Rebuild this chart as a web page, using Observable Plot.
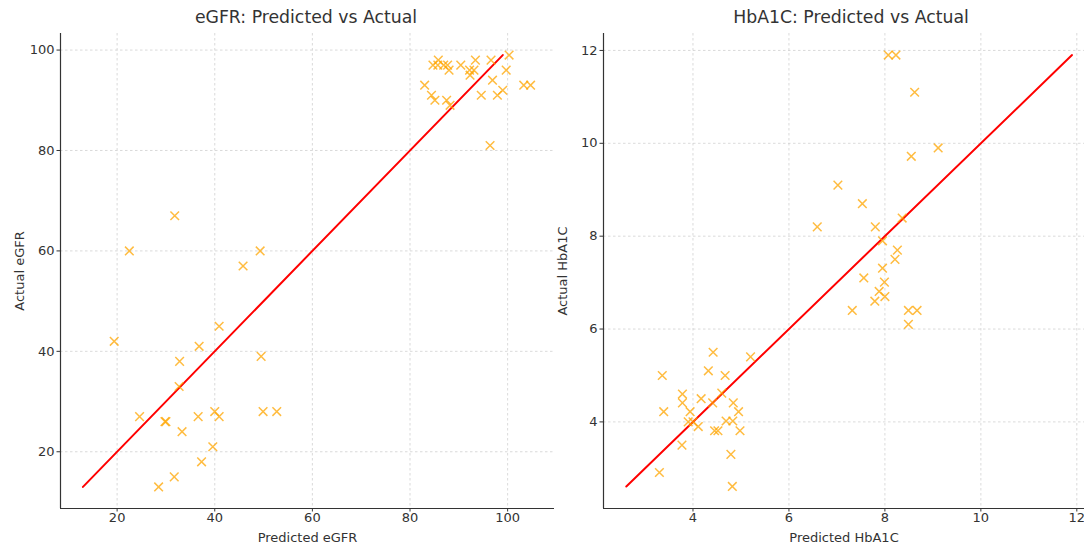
<!DOCTYPE html>
<html>
<head>
<meta charset="utf-8">
<script src="https://cdn.jsdelivr.net/npm/d3@7"></script>
<script src="https://cdn.jsdelivr.net/npm/@observablehq/plot@0.6"></script>
<style>
  html, body { margin: 0; padding: 0; background: #fff; }
  #wrap { position: relative; width: 1084px; height: 544px; overflow: hidden; font-family: "DejaVu Sans", sans-serif; }
  .title { position: absolute; top: 9px; font-size: 17.3px; color: #333; text-align: center; line-height: 1; }
  .panel { position: absolute; top: 0; }
</style>
</head>
<body>
<div id="wrap">
  <div class="panel" id="left" style="left:0px"></div>
  <div class="panel" id="right" style="left:543px"></div>
  <div class="title" style="left:0px;width:612px">eGFR: Predicted vs Actual</div>
  <div class="title" style="left:618px;width:466px">HbA1C: Predicted vs Actual</div>
</div>
<script>
// eGFR panel data
const eGFRPredicted = [31.8, 22.5, 49.3, 45.8, 19.4, 40.9, 36.8, 32.8, 49.5, 32.7, 24.6, 29.8, 30.0, 33.3, 36.6, 40.0, 40.9, 49.9, 52.7, 39.6, 37.3, 31.7, 28.5,
  84.7, 85.7, 86.9, 87.7, 88.0, 85.8, 90.4, 92.2, 93.1, 92.3, 93.4, 96.6, 99.7, 100.3, 83.0, 84.4, 85.1, 87.5, 88.2, 94.6, 96.9, 97.9, 99.0, 103.3, 104.7, 96.4];
const eGFRActual = [67, 60, 60, 57, 42, 45, 41, 38, 39, 33, 27, 26, 26, 24, 27, 28, 27, 28, 28, 21, 18, 15, 13,
  97, 97, 97, 97, 96, 98, 97, 96, 96, 95, 98, 98, 96, 99, 93, 91, 90, 90, 89, 91, 94, 91, 92, 93, 93, 81];
const eGFRTicks = [20, 40, 60, 80, 100];

// HbA1C panel data
const hba1cPredicted = [4.42, 5.2, 3.36, 4.32, 4.67, 3.78, 4.6, 4.17, 3.78, 4.41, 4.84, 3.39, 3.94, 4.95, 3.9, 4.0, 4.11, 4.69, 4.83, 4.45, 4.52, 4.98, 3.77, 4.79, 3.3, 4.82,
  7.02, 7.53, 6.59, 7.8, 8.36, 7.95, 8.26, 8.21, 7.95, 7.56, 7.99, 7.88, 8.0, 7.79, 7.32, 8.49, 8.67, 8.49,
  8.07, 8.23, 8.62, 9.11, 8.55];
const hba1cActual = [5.5, 5.4, 5.0, 5.1, 5.0, 4.6, 4.62, 4.5, 4.41, 4.41, 4.41, 4.22, 4.22, 4.22, 4.0, 4.0, 3.9, 4.02, 4.02, 3.81, 3.81, 3.81, 3.5, 3.3, 2.91, 2.61,
  9.1, 8.7, 8.2, 8.2, 8.39, 7.9, 7.7, 7.5, 7.31, 7.1, 7.01, 6.81, 6.7, 6.6, 6.4, 6.4, 6.4, 6.1,
  11.9, 11.9, 11.1, 9.9, 9.72];
const hba1cTicks = [4, 6, 8, 10, 12];

function panel({pred, actual, ticks, xDomain, yDomain, xLabel, yLabel, width, marginRight}) {
  const pts = pred.map((p, i) => ({x: p, y: actual[i]}));
  const lo = d3.min(actual), hi = d3.max(actual);
  const ideal = [{x: lo, y: lo}, {x: hi, y: hi}];
  const grid = {stroke: "#c4c4c4", strokeOpacity: 0.8, strokeDasharray: "2.5,2.5", strokeWidth: 0.8};
  return Plot.plot({
    width, height: 544,
    marginTop: 33, marginBottom: 36, marginLeft: 60, marginRight,
    style: {fontFamily: "DejaVu Sans, sans-serif", fontSize: "13px", color: "#333", background: "transparent", overflow: "visible"},
    x: {domain: xDomain},
    y: {domain: yDomain},
    marks: [
      Plot.gridX(ticks, grid),
      Plot.gridY(ticks, grid),
      Plot.ruleX([xDomain[0]], {stroke: "#333", strokeWidth: 1.2}),
      Plot.ruleY([yDomain[0]], {stroke: "#333", strokeWidth: 1.2}),
      Plot.axisX(ticks, {tickSize: 3.5, tickPadding: 0.5, label: xLabel, labelAnchor: "center", labelArrow: "none", labelOffset: 33, fill: "#333", fontSize: 13}),
      Plot.axisY(ticks, {tickSize: 3.5, tickPadding: 2.5, label: yLabel, labelAnchor: "center", labelArrow: "none", labelOffset: 46, fill: "#333", fontSize: 13}),
      Plot.line(ideal, {x: "x", y: "y", stroke: "red", strokeWidth: 2}),
      Plot.dot(pts, {x: "x", y: "y", symbol: "times", r: 4, stroke: "orange", strokeOpacity: 0.75, strokeWidth: 1.5})
    ]
  });
}

document.getElementById("left").append(panel({
  pred: eGFRPredicted, actual: eGFRActual, ticks: eGFRTicks,
  xDomain: [8.4, 109.6], yDomain: [8.7, 103.3],
  xLabel: "Predicted eGFR", yLabel: "Actual eGFR", width: 560, marginRight: 6
}));
document.getElementById("right").append(panel({
  pred: hba1cPredicted, actual: hba1cActual, ticks: hba1cTicks,
  xDomain: [2.135, 12.16], yDomain: [2.135, 12.365],
  xLabel: "Predicted HbA1C", yLabel: "Actual HbA1C", width: 541, marginRight: 0
}));
</script>
</body>
</html>
